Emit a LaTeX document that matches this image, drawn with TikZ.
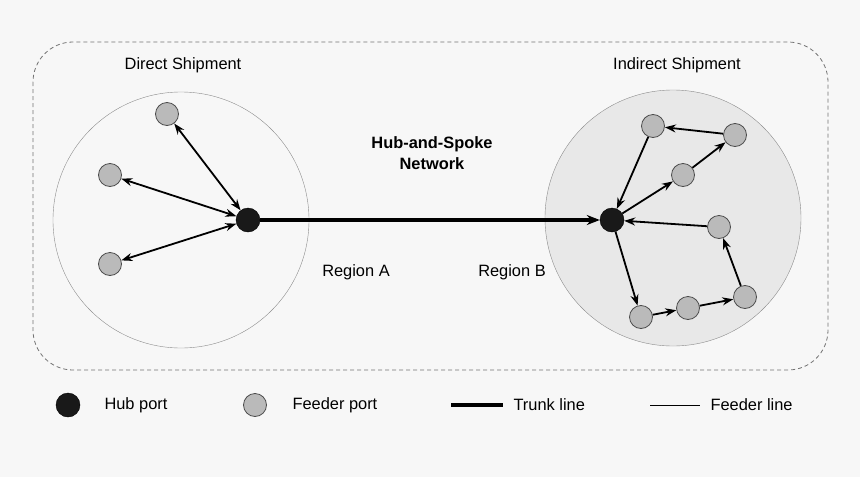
\documentclass[tikz,border=0pt]{standalone}
\usepackage{fontspec}
\setmainfont{Liberation Sans}
\usepackage{tikz}
\usetikzlibrary{arrows.meta}
\tikzset{
  hub/.style={circle, fill=black!90, draw=black, minimum size=24pt, inner sep=0pt},
  feeder/.style={circle, fill=black!27, draw=black!70, line width=0.8pt, minimum size=23pt, inner sep=0pt},
  lbl/.style={font=\fontsize{16.4}{19}\selectfont},
  fline/.style={line width=1.8pt, -{Stealth[length=11pt,width=8pt]}},
  bline/.style={line width=1.8pt, {Stealth[length=11pt,width=8pt]}-{Stealth[length=11pt,width=8pt]}}
}

\begin{document}
\begin{tikzpicture}[x=1pt, y=-1pt]
      \useasboundingbox (0,0) rectangle (860,477);
      \fill[black!3] (0,0) rectangle (860,477);
      \draw[black!55, line width=0.8pt, dash pattern=on 4pt off 3pt, rounded corners=40pt] (33,42) rectangle (828,370);
      % regions
      \draw[black!45] (181,220) circle (128);
      \draw[black!45, fill=black!9] (673,218) circle (128);
      \node[lbl] at (183,65) (DS) {Direct Shipment};
      \node[lbl] at (677,65) (IS) {Indirect Shipment};
      \node[lbl, align=center, font=\fontsize{16.4}{21}\selectfont\bfseries] at (432,153) (HS) {Hub-and-Spoke\\Network};
      \node[lbl] at (356,272) (RA) {Region A};
      \node[lbl] at (512,272) (RB) {Region B};
      % region A
      \node[hub] at (248,220) (HA) {};
      \node[feeder] at (167,114) (A1) {};
      \node[feeder] at (110,175) (A2) {};
      \node[feeder] at (110,264) (A3) {};
      \draw[bline] (HA) -- (A1);
      \draw[bline] (HA) -- (A2);
      \draw[bline] (HA) -- (A3);
      % region B
      \node[hub] at (612,220) (HB) {};
      \node[feeder] at (653,126) (B1) {};
      \node[feeder] at (735,135) (B2) {};
      \node[feeder] at (683,175) (B3) {};
      \node[feeder] at (719,227) (B4) {};
      \node[feeder] at (745,297) (B5) {};
      \node[feeder] at (688,308) (B6) {};
      \node[feeder] at (641,317) (B7) {};
      \draw[fline] (B2) -- (B1);
      \draw[fline] (B1) -- (HB);
      \draw[fline] (HB) -- (B3);
      \draw[fline] (B3) -- (B2);
      \draw[fline] (B4) -- (HB);
      \draw[fline] (B5) -- (B4);
      \draw[fline] (HB) -- (B7);
      \draw[fline] (B7) -- (B6);
      \draw[fline] (B6) -- (B5);
      % trunk
      \draw[line width=3.6pt, -{Stealth[length=13pt,width=10pt]}] (HA) -- (HB);
      % legend
      \node[hub] at (68,405) (LH) {};
      \node[lbl, anchor=west] at (101,405) (LHT) {Hub port};
      \node[feeder] at (255,405) (LF) {};
      \node[lbl, anchor=west] at (289,405) (LFT) {Feeder port};
      \coordinate (T1) at (451,405);
      \node[lbl, anchor=west] at (510,405) (LTT) {Trunk line};
      \draw[line width=3.6pt, shorten >=7pt] (T1) -- (LTT.west);
      \coordinate (L1) at (650,405);
      \node[lbl, anchor=west] at (707,405) (LLT) {Feeder line};
      \draw[line width=1pt, shorten >=7pt] (L1) -- (LLT.west);
    \end{tikzpicture}
\end{document}
